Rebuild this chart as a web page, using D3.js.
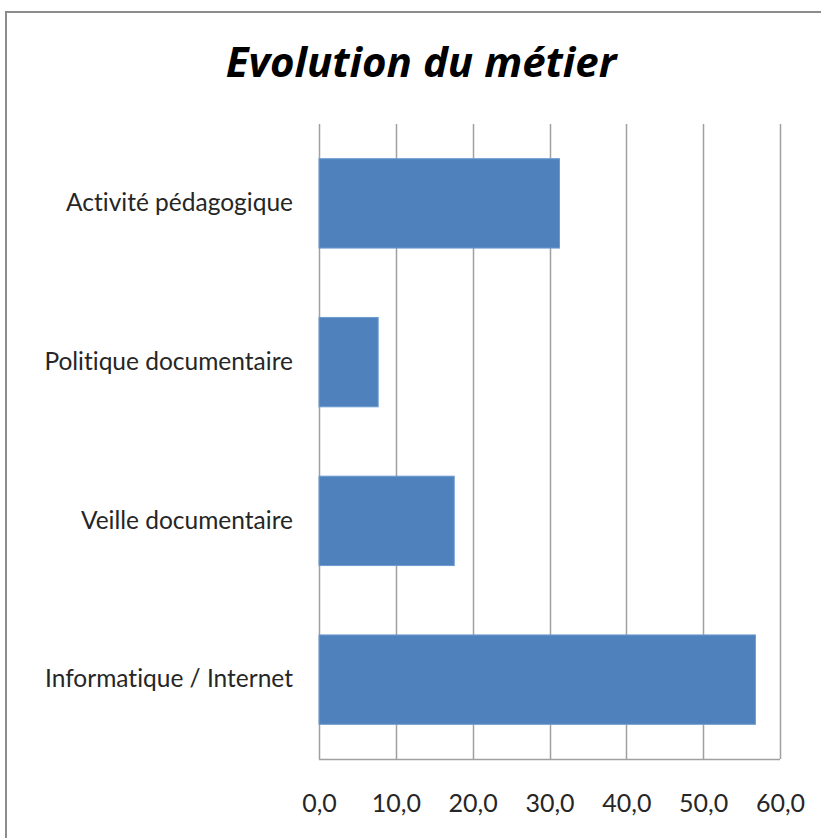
<!DOCTYPE html>
<html>
<head>
<meta charset="utf-8">
<script src="https://cdn.jsdelivr.net/npm/d3@7"></script>
<style>
html,body{margin:0;padding:0;background:#fff;}
svg{display:block;}
text{font-variant-ligatures:none;font-feature-settings:"liga" 0, "clig" 0;}
</style>
</head>
<body>
<svg id="chart" width="821" height="838"></svg>
<script>
const title = "Evolution du métier";
const categories = ["Activité pédagogique", "Politique documentaire", "Veille documentaire", "Informatique / Internet"];
const values = [31.3, 7.7, 17.6, 56.8];
const tickValues = [0, 10, 20, 30, 40, 50, 60];
const tickLabels = ["0,0", "10,0", "20,0", "30,0", "40,0", "50,0", "60,0"];

const svg = d3.select("#chart");
const W = 821, H = 838;
const m = {left: 319, right: 41, top: 124, bottom: 79};

// outer frame
svg.append("rect").attr("x", 6).attr("y", 12).attr("width", 830).attr("height", 840)
  .attr("fill", "#fff").attr("stroke", "#8c8c8c").attr("stroke-width", 2);

svg.append("text").attr("x", 421).attr("y", 77).attr("text-anchor", "middle")
  .attr("font-family", "'Open Sans', sans-serif").attr("font-style", "italic").attr("font-weight", "bold")
  .attr("font-size", 42).attr("fill", "#000").text(title);

const x = d3.scaleLinear().domain([0, 60]).range([m.left, W - m.right]);
const y = d3.scaleBand().domain(categories).range([m.top, H - m.bottom])
  .paddingInner(0.437).paddingOuter(0.2185);

// gridlines
svg.append("g").selectAll("line").data(tickValues).join("line")
  .attr("x1", d => Math.round(x(d)) + 0.5).attr("x2", d => Math.round(x(d)) + 0.5)
  .attr("y1", m.top).attr("y2", H - m.bottom)
  .attr("stroke", "#a0a0a0").attr("stroke-width", 1.5);

// bars
svg.append("g").selectAll("rect").data(values).join("rect")
  .attr("x", x(0)).attr("y", (d, i) => y(categories[i]))
  .attr("width", d => x(d) - x(0)).attr("height", y.bandwidth())
  .attr("fill", "#4f81bd").attr("stroke", "#6d9bd1").attr("stroke-width", 1);

// axis baseline
svg.append("line").attr("x1", x(0)).attr("x2", x(60)).attr("y1", H - m.bottom + 0.5).attr("y2", H - m.bottom + 0.5)
  .attr("stroke", "#a0a0a0").attr("stroke-width", 1.5);

// x axis
const xAxis = d3.axisBottom(x).tickValues(tickValues).tickFormat((d, i) => tickLabels[i]).tickSize(0).tickPadding(35);
const gx = svg.append("g").attr("transform", `translate(0,${H - m.bottom})`).call(xAxis);
gx.select(".domain").remove();
gx.selectAll("text").attr("font-family", "Lato, sans-serif").attr("font-size", 25).attr("fill", "#262626");

// y axis
const yAxis = d3.axisLeft(y).tickSize(0).tickPadding(26);
const gy = svg.append("g").attr("transform", `translate(${m.left},0)`).call(yAxis);
gy.select(".domain").remove();
gy.selectAll("text").attr("font-family", "Lato, sans-serif").attr("font-size", 24.5).attr("fill", "#262626");
</script>
</body>
</html>
